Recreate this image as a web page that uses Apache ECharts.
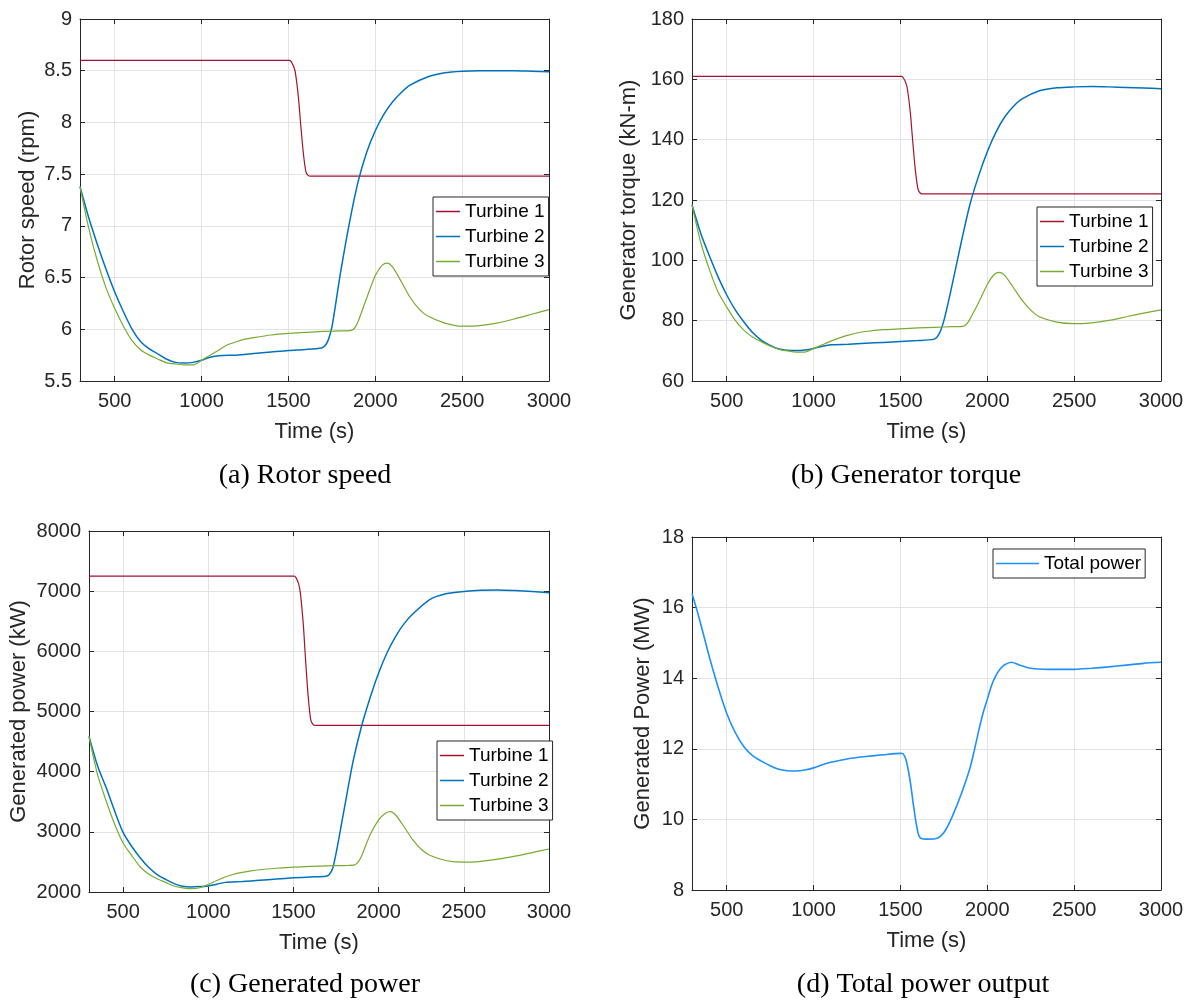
<!DOCTYPE html>
<html>
<head>
<meta charset="utf-8">
<script src="https://cdn.jsdelivr.net/npm/echarts@6/dist/echarts.min.js"></script>
<style>
html,body{margin:0;padding:0;background:#fff;}
#chart{width:1193px;height:1003px;}
</style>
</head>
<body>
<div id="chart"></div>
<script>
// ---------- data (time in s, value) ----------
const xTicks = [500, 1000, 1500, 2000, 2500, 3000];
const turbineNames = ['Turbine 1', 'Turbine 2', 'Turbine 3'];
const totalName = 'Total power';

// (a) Rotor speed (rpm)
const speedT1 = [[300,8.6],[1505,8.6],[1515,8.59],[1530,8.54],[1540,8.48],[1557,8.25],[1570,7.99],[1586,7.70],[1601,7.52],[1612,7.49],[1625,7.48],[3000,7.48]];
const speedT2 = [[300,7.38],[350,7.08],[400,6.82],[450,6.58],[500,6.36],[550,6.17],[600,6.0],[650,5.88],[700,5.81],[750,5.76],[800,5.71],[850,5.68],[900,5.675],[950,5.68],[1000,5.7],[1050,5.73],[1100,5.745],[1200,5.75],[1300,5.765],[1400,5.78],[1500,5.795],[1600,5.805],[1690,5.82],[1710,5.84],[1730,5.9],[1750,6.02],[1775,6.28],[1800,6.55],[1850,7.02],[1900,7.42],[1950,7.71],[2000,7.92],[2050,8.08],[2100,8.2],[2150,8.29],[2200,8.36],[2300,8.44],[2400,8.48],[2500,8.495],[2600,8.5],[2700,8.5],[2800,8.5],[2900,8.495],[3000,8.49]];
const speedT3 = [[300,7.38],[350,6.98],[400,6.66],[450,6.4],[500,6.2],[550,6.03],[600,5.89],[650,5.8],[700,5.75],[750,5.71],[800,5.675],[850,5.665],[900,5.655],[950,5.655],[1000,5.7],[1050,5.75],[1100,5.8],[1150,5.85],[1200,5.88],[1250,5.905],[1300,5.92],[1400,5.945],[1500,5.96],[1600,5.97],[1700,5.98],[1800,5.985],[1860,5.99],[1880,6.01],[1900,6.07],[1950,6.3],[2000,6.52],[2040,6.62],[2070,6.64],[2100,6.6],[2150,6.46],[2200,6.31],[2250,6.2],[2300,6.13],[2400,6.06],[2500,6.03],[2600,6.035],[2700,6.06],[2800,6.1],[2900,6.145],[3000,6.19]];

// (b) Generator torque (kN-m)
const torqueT1 = [[300,161],[1505,161],[1515,160.6],[1530,159],[1540,156.8],[1557,148.9],[1570,139.9],[1586,129.8],[1601,123.6],[1612,122.4],[1625,122],[3000,122]];
const torqueT2 = [[300,118.4],[350,109],[400,101.5],[450,94.5],[500,88.5],[550,83.5],[600,79.5],[650,76],[700,73.5],[750,71.8],[800,70.6],[850,70.2],[900,70.1],[950,70.3],[1000,70.8],[1050,71.5],[1100,72],[1200,72.2],[1300,72.5],[1400,72.8],[1500,73.1],[1600,73.4],[1690,73.8],[1710,74.5],[1730,76.5],[1750,80],[1775,86],[1800,92.5],[1850,106],[1900,118.5],[1950,128],[2000,136],[2050,142.5],[2100,147.5],[2150,151],[2200,153.5],[2300,156.2],[2400,157.2],[2500,157.5],[2600,157.6],[2700,157.5],[2800,157.3],[2900,157.1],[3000,156.9]];
const torqueT3 = [[300,118.4],[350,106],[400,97],[450,89.5],[500,84.5],[550,80],[600,76.8],[650,74.5],[700,73],[750,71.6],[800,70.5],[850,70],[900,69.6],[950,69.6],[1000,70.8],[1050,72],[1100,73.2],[1150,74.3],[1200,75.2],[1250,75.9],[1300,76.4],[1400,77],[1500,77.3],[1600,77.6],[1700,77.8],[1800,78],[1860,78.1],[1880,78.8],[1900,80.5],[1950,86],[2000,92],[2040,95.3],[2070,96],[2100,95],[2150,91],[2200,86.8],[2250,83.5],[2300,81.3],[2400,79.5],[2500,79],[2600,79.3],[2700,80.1],[2800,81.3],[2900,82.5],[3000,83.6]];

// (c) Generated power (kW)
const powerT1 = [[300,7250],[1505,7250],[1515,7225],[1530,7126],[1540,6985],[1557,6481],[1570,5911],[1586,5266],[1601,4869],[1612,4795],[1625,4770],[3000,4770]];
const powerT2 = [[300,4585],[350,4100],[400,3740],[450,3350],[500,2990],[550,2760],[600,2570],[650,2410],[700,2290],[750,2210],[800,2140],[850,2095],[900,2085],[950,2090],[1000,2100],[1050,2130],[1100,2160],[1200,2175],[1300,2195],[1400,2215],[1500,2235],[1600,2250],[1690,2260],[1710,2290],[1730,2390],[1750,2640],[1775,3020],[1800,3410],[1850,4170],[1900,4760],[1950,5230],[2000,5640],[2050,5980],[2100,6250],[2150,6460],[2200,6620],[2300,6860],[2400,6960],[2500,6995],[2600,7015],[2700,7020],[2800,7010],[2900,6995],[3000,6975]];
const powerT3 = [[300,4585],[350,3950],[400,3520],[450,3130],[500,2815],[550,2610],[600,2420],[650,2300],[700,2220],[750,2160],[800,2100],[850,2070],[900,2055],[950,2070],[1000,2125],[1050,2190],[1100,2250],[1150,2295],[1200,2325],[1250,2350],[1300,2370],[1400,2395],[1500,2415],[1600,2425],[1700,2435],[1800,2440],[1860,2450],[1880,2500],[1900,2600],[1950,2950],[2000,3200],[2040,3310],[2070,3335],[2100,3280],[2150,3080],[2200,2870],[2250,2710],[2300,2610],[2400,2520],[2500,2495],[2600,2510],[2700,2545],[2800,2595],[2900,2655],[3000,2715]];

// (d) Total power output (MW)
const totalPower = [[300,16.4],[330,15.9],[360,15.35],[400,14.6],[450,13.75],[500,13.0],[550,12.45],[600,12.05],[650,11.8],[700,11.65],[750,11.52],[800,11.42],[850,11.38],[900,11.37],[950,11.4],[1000,11.46],[1050,11.55],[1100,11.62],[1200,11.72],[1300,11.78],[1400,11.83],[1500,11.87],[1515,11.86],[1530,11.72],[1545,11.4],[1560,10.95],[1575,10.4],[1590,9.9],[1605,9.55],[1620,9.46],[1650,9.44],[1700,9.45],[1730,9.52],[1760,9.7],[1800,10.1],[1850,10.72],[1900,11.45],[1925,11.95],[1950,12.5],[1975,13.0],[2000,13.4],[2025,13.8],[2050,14.08],[2075,14.27],[2100,14.38],[2140,14.45],[2180,14.38],[2250,14.28],[2350,14.25],[2500,14.25],[2600,14.28],[2700,14.32],[2800,14.37],[2900,14.42],[3000,14.45]];

// axis ranges
const yRanges = [
  {min:5.5, max:9, interval:0.5, name:'Rotor speed (rpm)'},
  {min:60, max:180, interval:20, name:'Generator torque (kN-m)'},
  {min:2000, max:8000, interval:1000, name:'Generated power (kW)'},
  {min:8, max:18, interval:2, name:'Generated Power (MW)'}
];
const captions = ['(a) Rotor speed', '(b) Generator torque', '(c) Generated power', '(d) Total power output'];

// ---------- layout / style ----------
const FONT = 'Liberation Sans, Arial, Helvetica, sans-serif';
const AX = '#262626';
const GRIDC = '#e3e3e3';
const colors = ['#A2142F', '#0072BD', '#77AC30'];
const totalColor = '#1E90FF';
const plain = v => String(v);

const grids = [
  {left:80, top:19, width:469, height:362},
  {left:692, top:19, width:469, height:362},
  {left:89, top:531, width:460, height:361},
  {left:692, top:537, width:469, height:353}
];
const yNameGaps = [41, 52, 59, 38];

const xAxes = [], yAxes = [];
grids.forEach((g, i) => {
  xAxes.push({
    type:'value', gridIndex:i, position:'bottom', min:300, max:3000,
    axisLine:{show:true, onZero:false, lineStyle:{color:AX, width:1}},
    axisTick:{show:true, inside:true, length:5, customValues:xTicks, lineStyle:{color:AX}},
    axisLabel:{customValues:xTicks, formatter:plain, fontSize:20, color:AX, fontFamily:FONT, margin:10},
    splitLine:{show:true, lineStyle:{color:GRIDC, width:1}},
    name:'Time (s)', nameLocation:'middle', nameGap:40,
    nameTextStyle:{fontSize:22, color:AX, fontFamily:FONT}
  });
  xAxes.push({
    type:'value', gridIndex:i, position:'top', min:300, max:3000,
    axisLine:{show:true, onZero:false, lineStyle:{color:AX, width:1}},
    axisTick:{show:true, inside:true, length:5, customValues:xTicks, lineStyle:{color:AX}},
    axisLabel:{show:false}, splitLine:{show:false}
  });
  const r = yRanges[i];
  yAxes.push({
    type:'value', gridIndex:i, position:'left', min:r.min, max:r.max, interval:r.interval,
    axisLine:{show:true, onZero:false, lineStyle:{color:AX, width:1}},
    axisTick:{show:true, inside:true, length:5, lineStyle:{color:AX}},
    axisLabel:{formatter:plain, fontSize:20, color:AX, fontFamily:FONT, margin:8},
    splitLine:{show:true, lineStyle:{color:GRIDC, width:1}},
    name:r.name, nameLocation:'middle', nameGap:yNameGaps[i],
    nameTextStyle:{fontSize:22, color:AX, fontFamily:FONT}
  });
  yAxes.push({
    type:'value', gridIndex:i, position:'right', min:r.min, max:r.max, interval:r.interval,
    axisLine:{show:true, onZero:false, lineStyle:{color:AX, width:1}},
    axisTick:{show:true, inside:true, length:5, lineStyle:{color:AX}},
    axisLabel:{show:false}, splitLine:{show:false}
  });
});

const panelData = [
  [speedT1, speedT2, speedT3],
  [torqueT1, torqueT2, torqueT3],
  [powerT1, powerT2, powerT3]
];
const series = [];
panelData.forEach((arrs, i) => {
  arrs.forEach((d, k) => {
    series.push({
      type:'line', name:turbineNames[k], data:d, xAxisIndex:2*i, yAxisIndex:2*i,
      showSymbol:false, symbol:'none', smooth:0.25, clip:true,
      lineStyle:{color:colors[k], width:(k===1?1.5:1.2)}, itemStyle:{color:colors[k]}
    });
  });
});
series.push({
  type:'line', name:totalName, data:totalPower, xAxisIndex:6, yAxisIndex:6,
  showSymbol:false, symbol:'none', smooth:0.25, clip:true,
  lineStyle:{color:totalColor, width:1.6}, itemStyle:{color:totalColor}
});

function mkLegend(names, left, top, itemWidth) {
  return {
    data:names, left:left, top:top, orient:'vertical',
    icon:'rect', itemWidth:itemWidth, itemHeight:1.5, itemGap:4,
    padding:[4,4,4,3], borderColor:AX, borderWidth:1, backgroundColor:'#fff',
    textStyle:{fontSize:19, color:'#000', fontFamily:FONT, lineHeight:21},
    selectedMode:false
  };
}

const capPos = [[305,476],[906,476],[305,985],[923,985]];
const graphic = captions.map((c, i) => ({
  type:'text', x:capPos[i][0], y:capPos[i][1],
  style:{text:c, fill:'#000', font:'28px "Liberation Serif", "Times New Roman", serif', textAlign:'center', textVerticalAlign:'middle'}
}));

const chart = echarts.init(document.getElementById('chart'), null, {renderer:'canvas'});
chart.setOption({
  animation:false,
  backgroundColor:'#fff',
  grid:grids.map(g => Object.assign({show:false, containLabel:false}, g)),
  xAxis:xAxes,
  yAxis:yAxes,
  legend:[
    mkLegend(turbineNames, 433, 197, 24),
    mkLegend(turbineNames, 1037, 207, 24),
    mkLegend(turbineNames, 437, 741, 24),
    mkLegend([totalName], 993, 549, 43)
  ],
  series:series,
  graphic:graphic
});
</script>
</body>
</html>
